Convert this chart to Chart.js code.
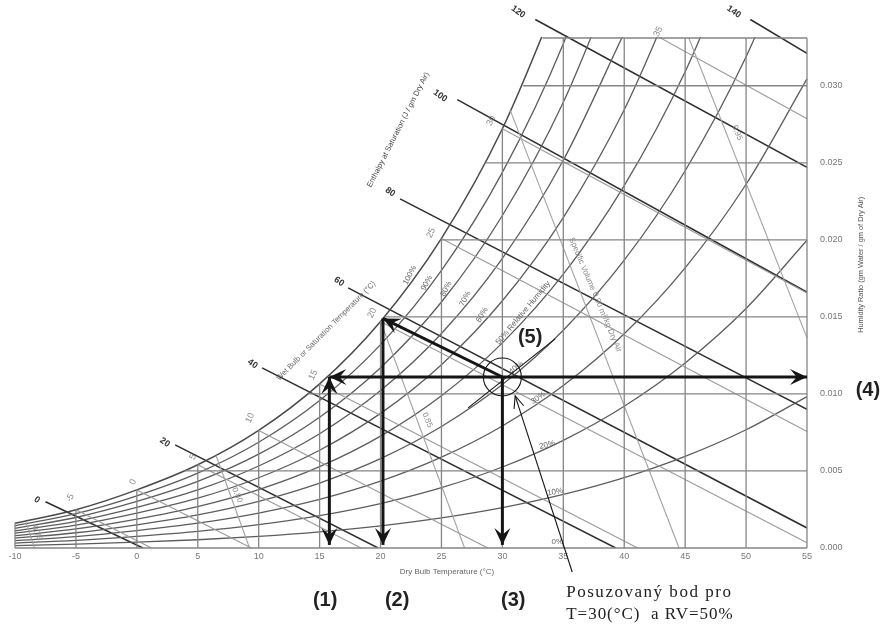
<!DOCTYPE html>
<html><head><meta charset="utf-8">
<script src="https://cdn.jsdelivr.net/npm/chart.js@4.4.0/dist/chart.umd.min.js"></script>
<style>html,body{margin:0;padding:0;background:#fff;overflow:hidden}</style>
</head><body>
<canvas id="c" width="887" height="627"></canvas>
<script>
// ---------- DATA ----------
const xTickValues = [-10,-5,0,5,10,15,20,25,30,35,40,45,50,55];
const yTickValues = [0,0.005,0.010,0.015,0.020,0.025,0.030];
const yTop = 0.0331;

// dry-bulb temperatures for the humidity curves
const curveT = [-10,-5,0,5,10,15,20,25,30,35,40,45,50,55];
const sat  = [0.0016,0.00248,0.00377,0.0054,0.00763,0.01065,0.0147,0.02009,0.02721,0.03658];
const rh90 = [0.00144,0.00223,0.00339,0.00486,0.00686,0.009569,0.013198,0.018019,0.024382,0.032733,0.04366];
const rh80 = [0.00128,0.00198,0.00302,0.00432,0.00609,0.008491,0.011704,0.015966,0.021579,0.028927,0.03851];
const rh70 = [0.00112,0.00173,0.00264,0.00377,0.00532,0.007417,0.010217,0.013925,0.0188,0.025165,0.033437];
const rh60 = [0.00096,0.001484,0.00226,0.00323,0.00456,0.006347,0.008737,0.011898,0.016045,0.021446,0.028442,0.037467];
const rh50 = [0.0008,0.001237,0.00188,0.00269,0.00379,0.00528,0.007264,0.009883,0.013314,0.01777,0.023522,0.030912,0.04037];
const rh40 = [0.00064,0.000989,0.001507,0.00215,0.00303,0.004217,0.005797,0.007882,0.010605,0.014135,0.018677,0.024486,0.031882,0.041268];
const rh30 = [0.00048,0.000742,0.00113,0.001611,0.00227,0.003157,0.004338,0.005893,0.00792,0.010541,0.013903,0.018186,0.023609,0.030446];
const rh20 = [0.00032,0.000495,0.000753,0.001073,0.001512,0.002101,0.002885,0.003916,0.005258,0.006988,0.0092,0.012007,0.015543,0.019972];
const rh10 = [0.00016,0.000247,0.000376,0.000536,0.000755,0.001049,0.001439,0.001952,0.002618,0.003475,0.004566,0.005946,0.007675,0.009828];

// grid
const vGridT   = [-10,-5,0,5,10,15,20,25,30,35,40,45,50,55];
const vGridTop = [0.0016,0.00248,0.00377,0.0054,0.00763,0.01065,0.0147,0.02009,0.02721,0.0331,0.0331,0.0331,0.0331,0.0331];
const hGridW      = [0.005,0.010,0.015,0.020,0.025,0.030,0.0331];
const hGridStartT = [3.9,14.04,20.32,24.93,28.6,31.7,33.3];

// wet-bulb lines (start on saturation, end at bottom/right)
const wbT      = [-5,0,5,10,15,20,25,30,35];
const wbStartW = [0.00248,0.00377,0.0054,0.00763,0.01065,0.0147,0.02009,0.02721,0.03658];
const wbEndT   = [1.2,9.4,18.4,28.8,41.1,55,55,55,55];
const wbEndW   = [0,0,0,0,0,0.00034,0.00756,0.01655,0.02786];

// enthalpy lines
const hVal    = [0,20,40,60,80,100,120,140];
const hStartT = [-7.5,3.14,10.28,17.34,21.6,26.3,32.7,50.35];
const hStartW = [0.0030,0.00669,0.01169,0.01688,0.02266,0.0291,0.0343,0.0343];
const hEndT   = [0.5,19.8,39.3,55,55,55,55,55];
const hEndW   = [0,0,0,0.0013,0.0090,0.0166,0.0247,0.0321];

// specific volume lines
const svVal    = [0.75,0.80,0.85,0.90,0.95];
const svStartT = [-9.1,6.5,20,30.65,45.3];
const svStartW = [0.0017,0.0060,0.0147,0.0284,0.0331];
const svEndT   = [-8.4,9.25,26.9,44.5,55];
const svEndW   = [0,0,0,0,0.01364];

// annotation points (T, W)
const pointP  = [30, 0.0111];   // assessed state
const pointDew = [15.8, 0.0111];
const pointWB = [20.2, 0.0149];
const rightEnd = [55, 0.0111];
const baseW = 0.0002;

// labels
const rhLabels = ['100%','90%','80%','70%','60%','50% Relative Humidity','40%','30%','20%','10%','0%'];
const rhLabelT = [22.4,23.8,25.39,26.95,28.34,31.7,31.13,32.94,33.68,34.33,34.5];
const rhLabelW = [0.0177,0.0172,0.01682,0.01617,0.01513,0.01526,0.01169,0.00974,0.00669,0.00364,0.00039];
const rhLabelRot = [-62,-62,-62,-62,-60,-50,-40,-35,-15,-10,0];

const wbLabels = ['-5','0','5','10','15','20','25','30','35'];
const wbLabelT = [-5.48,-0.31,4.61,9.29,14.47,19.31,24.15,29.08,42.79];
const wbLabelW = [0.00325,0.00429,0.00591,0.00844,0.01123,0.01526,0.02045,0.02773,0.03351];

const hLabels = ['0','20','40','60','80','100','120','140'];
const hLabelT = [-8.2,2.3,9.5,16.6,20.8,24.9,31.3,49.0];
const hLabelW = [0.00312,0.00685,0.01195,0.01729,0.0231,0.02935,0.0348,0.0348];

const svLabels = ['0.75','0.80','0.85','Specific Volume 0.90 m³/kg Dry Air','0.95'];
const svLabelT = [-8.19,8.23,23.83,37.62,49.28];
const svLabelW = [0.00097,0.00344,0.00831,0.01643,0.02695];

// ---------- BUILD ----------
const datasets = [];
function add(pts, color, width, extra){
  datasets.push(Object.assign({data:pts, showLine:true, pointRadius:0, pointHoverRadius:0,
    borderColor:color, borderWidth:width, fill:false, clip:1}, extra||{}));
}
function curve(arr){ return arr.map((w,i)=>({x:curveT[i], y:w})); }

// grid
vGridT.forEach((t,i)=>add([{x:t,y:0},{x:t,y:vGridTop[i]}], '#858585', 1.3, {clip:3}));
hGridW.forEach((w,i)=>add([{x:hGridStartT[i],y:w},{x:55,y:w}], '#858585', 1.3, {clip:3}));
add([{x:-10,y:0},{x:55,y:0}], '#858585', 1.4, {clip:3});
// specific volume
svVal.forEach((v,i)=>add([{x:svStartT[i],y:svStartW[i]},{x:svEndT[i],y:svEndW[i]}], '#a2a2a2', 1.1));
// wet bulb
wbT.forEach((t,i)=>add([{x:t,y:wbStartW[i]},{x:wbEndT[i],y:wbEndW[i]}], '#9a9a9a', 1.1));
// RH curves
[rh10,rh20,rh30,rh40,rh50,rh60,rh70,rh80,rh90].forEach(a=>add(curve(a), '#5c5c5c', 1.3, {cubicInterpolationMode:'monotone'}));
add(curve(sat), '#4a4a4a', 1.5, {cubicInterpolationMode:'monotone'});
// enthalpy
hVal.forEach((h,i)=>add([{x:hStartT[i],y:hStartW[i]},{x:hEndT[i],y:hEndW[i]}], '#2e2e2e', 1.5,
  {clip:{left:false, top:false, right:0, bottom:0}}));

function stealth(ctx, x1,y1,x2,y2, len, half){
  const a = Math.atan2(y2-y1, x2-x1);
  ctx.save(); ctx.translate(x2,y2); ctx.rotate(a);
  ctx.beginPath(); ctx.moveTo(0,0); ctx.lineTo(-len, half); ctx.lineTo(-len*0.6,0); ctx.lineTo(-len,-half); ctx.closePath();
  ctx.fill(); ctx.restore();
}
function openHead(ctx, x1,y1,x2,y2, len, ang){
  const a = Math.atan2(y2-y1, x2-x1);
  ctx.beginPath();
  ctx.moveTo(x2 - len*Math.cos(a-ang), y2 - len*Math.sin(a-ang));
  ctx.lineTo(x2,y2);
  ctx.lineTo(x2 - len*Math.cos(a+ang), y2 - len*Math.sin(a+ang));
  ctx.stroke();
}
function txt(ctx, s, x, y, rot, font, color, align){
  ctx.save(); ctx.translate(x,y); ctx.rotate(rot*Math.PI/180);
  ctx.font = font; ctx.fillStyle = color; ctx.textAlign = align||'center'; ctx.textBaseline='middle';
  ctx.fillText(s,0,0); ctx.restore();
}

const overlay = {
  id:'overlay',
  afterDatasetsDraw(chart){
    const ctx = chart.ctx;
    const X = v=>chart.scales.x.getPixelForValue(v);
    const Y = v=>chart.scales.y.getPixelForValue(v);
    const sans = 'Liberation Sans, Arial, sans-serif';
    ctx.save();
    // curve labels
    rhLabels.forEach((s,i)=>txt(ctx, s, X(rhLabelT[i]), Y(rhLabelW[i]), rhLabelRot[i], '8px '+sans, '#666'));
    wbLabels.forEach((s,i)=>txt(ctx, s, X(wbLabelT[i]), Y(wbLabelW[i]), -65, '9px '+sans, '#8a8a8a'));
    hLabels.forEach((s,i)=>txt(ctx, s, X(hLabelT[i]), Y(hLabelW[i]), 35, 'bold 9px '+sans, '#333'));
    svLabels.forEach((s,i)=>txt(ctx, s, X(svLabelT[i]), Y(svLabelW[i]), 67, '8px '+sans, '#8a8a8a'));
    // titles
    txt(ctx, 'Enthalpy at Saturation (J / gm Dry Air)', X(21.45), Y(0.02714), -63, '7.6px '+sans, '#444');
    txt(ctx, 'Wet Bulb or Saturation Temperature (°C)', X(15.53), Y(0.01409), -45, '7.6px '+sans, '#666');
    txt(ctx, 'Humidity Ratio (gm Water / gm of Dry Air)', X(59.4), Y(0.01838), -90, '7.4px '+sans, '#555');
    txt(ctx, 'Dry Bulb Temperature (°C)', X(25.45), Y(-0.00156), 0, '8px '+sans, '#666');

    // annotation arrows
    ctx.strokeStyle = '#151515'; ctx.fillStyle = '#151515'; ctx.lineWidth = 3; ctx.lineCap='butt';
    const P = [X(pointP[0]), Y(pointP[1])];
    const D = [X(pointDew[0]), Y(pointDew[1])];
    const B = [X(pointWB[0]), Y(pointWB[1])];
    const R = [X(rightEnd[0]), Y(rightEnd[1])];
    const yb = Y(baseW);
    const segs = [[D,R],[P,B],[[D[0],D[1]],[D[0],yb]],[[B[0],B[1]],[B[0],yb]],[[P[0],P[1]],[P[0],yb]]];
    segs.forEach(s=>{ctx.beginPath(); ctx.moveTo(s[0][0],s[0][1]); ctx.lineTo(s[1][0],s[1][1]); ctx.stroke();});
    stealth(ctx, P[0],P[1], R[0],R[1], 17, 8);
    stealth(ctx, P[0],P[1], D[0],D[1], 17, 8);
    stealth(ctx, D[0],yb, D[0],D[1], 17, 8);
    stealth(ctx, P[0],P[1], B[0],B[1], 17, 8);
    stealth(ctx, D[0],D[1], D[0],yb, 17, 8);
    stealth(ctx, B[0],B[1], B[0],yb, 17, 8);
    stealth(ctx, P[0],P[1], P[0],yb, 17, 8);
    // circle and thin lines
    ctx.lineWidth = 1.1;
    ctx.beginPath(); ctx.arc(P[0],P[1],19,0,Math.PI*2); ctx.stroke();
    ctx.beginPath(); ctx.moveTo(X(34.33),Y(0.01357)); ctx.lineTo(X(27.19),Y(0.00909)); ctx.stroke();
    const a1=[X(35.73),Y(-0.00156)], a2=[X(31.05),Y(0.00987)];
    ctx.beginPath(); ctx.moveTo(a1[0],a1[1]); ctx.lineTo(a2[0],a2[1]); ctx.stroke();
    openHead(ctx, a1[0],a1[1], a2[0],a2[1], 13, 0.4);

    // numbered labels
    const bold = 'bold 20px '+sans;
    txt(ctx,'(1)', X(15.45), Y(-0.00338), 0, bold, '#222');
    txt(ctx,'(2)', X(21.36), Y(-0.00338), 0, bold, '#222');
    txt(ctx,'(3)', X(30.89), Y(-0.00338), 0, bold, '#222');
    txt(ctx,'(4)', X(60.0), Y(0.0102), 0, bold, '#222');
    txt(ctx,'(5)', X(32.28), Y(0.01364), 0, bold, '#222');

    // serif note
    ctx.font = '17px "Liberation Serif", "Times New Roman", serif';
    ctx.fillStyle = '#222'; ctx.textAlign='left'; ctx.textBaseline='middle';
    const lines = ['Posuzovaný bod pro','T=30(°C)  a RV=50%'];
    const lw = [X(48.75)-X(35.24), X(48.9)-X(35.24)];
    const ly = [Y(-0.00292), Y(-0.00429)];
    lines.forEach((s,i)=>{
      ctx.letterSpacing = '0px';
      const m = ctx.measureText(s).width;
      const sp = Math.max(0,(lw[i]-m)/(s.length-1));
      ctx.letterSpacing = sp.toFixed(2)+'px';
      ctx.fillText(s, X(35.24), ly[i]);
    });
    ctx.letterSpacing = '0px';
    ctx.restore();
  }
};

new Chart(document.getElementById('c'), {
  type:'scatter',
  data:{datasets},
  options:{
    responsive:false, animation:false, events:[],
    layout:{padding:{left:15, top:38, right:20, bottom:49}},
    plugins:{legend:{display:false}, tooltip:{enabled:false}},
    scales:{
      x:{type:'linear', min:-10, max:55, position:'bottom',
        grid:{display:false, drawTicks:false}, border:{display:false},
        ticks:{color:'#777', font:{size:9, family:'Liberation Sans, Arial'}, padding:3, autoSkip:false, maxRotation:0},
        afterBuildTicks:s=>{s.ticks = xTickValues.map(v=>({value:v}));},
        afterFit:s=>{s.height=30;}},
      y:{type:'linear', min:0, max:yTop, position:'right',
        grid:{display:false, drawTicks:false}, border:{display:false},
        ticks:{color:'#777', font:{size:9, family:'Liberation Sans, Arial'}, padding:13, callback:v=>Number(v).toFixed(3)},
        afterBuildTicks:s=>{s.ticks = yTickValues.map(v=>({value:v}));},
        afterFit:s=>{s.width=60;}}
    }
  },
  plugins:[overlay]
});
</script>
</body></html>
